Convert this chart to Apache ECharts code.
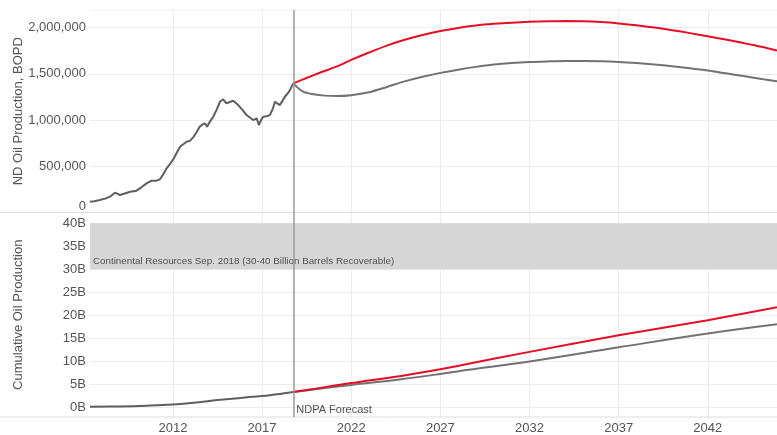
<!DOCTYPE html>
<html><head><meta charset="utf-8">
<script src="https://cdn.jsdelivr.net/npm/echarts@6/dist/echarts.min.js"></script>
<style>html,body{margin:0;padding:0;background:#fff}#c{width:777px;height:435px}</style>
</head><body><div id="c"></div><script>
// ---- data ----
const xTicks = [2012, 2017, 2022, 2027, 2032, 2037, 2042];
const bopdTicks = [0, 500000, 1000000, 1500000, 2000000];
const cumTicks = [0, 5e9, 10e9, 15e9, 20e9, 25e9, 30e9, 35e9, 40e9];
const forecastStart = 2018.75;
const bandRange = [30e9, 40e9];
const bandLabel = 'Continental Resources Sep. 2018 (30-40 Billion Barrels Recoverable)';
const forecastLabel = 'NDPA Forecast';

const histYears = [2007.35, 2007.6, 2007.9, 2008.2, 2008.47, 2008.75, 2009.03, 2009.3, 2009.6, 2009.96, 2010.25, 2010.52, 2010.8, 2011.08, 2011.27, 2011.45, 2011.65, 2011.85, 2012.0, 2012.2, 2012.4, 2012.6, 2012.77, 2012.95, 2013.14, 2013.3, 2013.5, 2013.65, 2013.8, 2013.92, 2014.05, 2014.26, 2014.45, 2014.64, 2014.82, 2014.92, 2015.0, 2015.2, 2015.38, 2015.5, 2015.66, 2015.9, 2016.13, 2016.3, 2016.5, 2016.7, 2016.82, 2016.95, 2017.06, 2017.25, 2017.44, 2017.6, 2017.72, 2017.85, 2018.0, 2018.15, 2018.28, 2018.45, 2018.56, 2018.75];
const histBopd = [117000, 122000, 135000, 150000, 171000, 214000, 189000, 205000, 225000, 236000, 275000, 315000, 344000, 344000, 359000, 410000, 478000, 530000, 568000, 640000, 711000, 740000, 765000, 775000, 813000, 860000, 928000, 950000, 964000, 928000, 975000, 1036000, 1110000, 1198000, 1224000, 1205000, 1181000, 1195000, 1209000, 1190000, 1162000, 1110000, 1054000, 1030000, 1000000, 1018000, 946000, 1000000, 1036000, 1040000, 1054000, 1120000, 1198000, 1180000, 1162000, 1210000, 1252000, 1290000, 1324000, 1397000];

const fcYears = [2018.75, 2019.3, 2019.9, 2020.5, 2021.2, 2022, 2023, 2024, 2025, 2026, 2027, 2028, 2029, 2030, 2031, 2032, 2033, 2034, 2035, 2036, 2037, 2038, 2039, 2040, 2041, 2042, 2043, 2044, 2045, 2045.88];
const baseBopd = [1397000, 1306000, 1278000, 1264000, 1259000, 1268000, 1300000, 1358000, 1418000, 1468000, 1510000, 1545000, 1575000, 1600000, 1617000, 1628000, 1634000, 1638000, 1638000, 1635000, 1628000, 1616000, 1600000, 1582000, 1560000, 1535000, 1505000, 1475000, 1445000, 1418000];
const highBopd = [1397000, 1440000, 1486000, 1530000, 1580000, 1650000, 1730000, 1805000, 1868000, 1920000, 1962000, 1996000, 2022000, 2040000, 2053000, 2062000, 2068000, 2070000, 2067000, 2059000, 2045000, 2024000, 2000000, 1972000, 1940000, 1906000, 1870000, 1832000, 1792000, 1752000];

const cumHistYears = [2007.35, 2009.0, 2010.5, 2012.0, 2013.3, 2014.5, 2015.8, 2017.0, 2018.0, 2018.75];
const cumHist = [0.05e9, 0.12e9, 0.28e9, 0.55e9, 1.0e9, 1.5e9, 1.98e9, 2.4e9, 2.85e9, 3.25e9];
const cumFcYears = [2018.75, 2020.0, 2022.0, 2024.7, 2027.0, 2028.1, 2032.0, 2037.0, 2042.0, 2045.88];
const cumBase = [3.25e9, 3.85e9, 4.8e9, 6.0e9, 7.2e9, 7.85e9, 9.9e9, 13.0e9, 16.0e9, 18.0e9];
const cumHigh = [3.25e9, 4.0e9, 5.2e9, 6.7e9, 8.2e9, 9.05e9, 12.0e9, 15.6e9, 18.9e9, 21.7e9];

// ---- chart ----
const pairs = (xs, ys) => xs.map((x, i) => [x, ys[i]]);
const FONT = 'Liberation Sans';
const LABEL = '#555';
const GRIDC = '#ececec';
const HIST = '#5e5e5e', BASE = '#727272', HIGH = '#e60e24';

const xAxisBase = (gi, showLabel) => ({
  type: 'value', gridIndex: gi, min: 2007.35, max: 2045.88,
  axisLine: { show: false },
  axisTick: { show: false, customValues: xTicks },
  axisLabel: { show: showLabel, customValues: xTicks, formatter: v => String(v), color: LABEL, fontFamily: FONT, fontSize: 13, margin: 5 },
  splitLine: { show: true, lineStyle: { color: GRIDC, width: 1 } }
});

const chart = echarts.init(document.getElementById('c'), null, { renderer: 'canvas' });
const vline = () => ({
  silent: true, symbol: 'none', animation: false,
  lineStyle: { color: '#9a9a9a', width: 1.5, type: 'solid' },
  label: { show: false },
  data: [{ xAxis: forecastStart }]
});

chart.setOption({
  animation: false,
  backgroundColor: '#fff',
  grid: [
    { left: 90, right: 0, top: 10, height: 202.5, containLabel: false, outerBoundsMode: 'none' },
    { left: 90, right: 0, top: 212.5, height: 204.5, containLabel: false, outerBoundsMode: 'none' }
  ],
  xAxis: [xAxisBase(0, false), xAxisBase(1, true)],
  yAxis: [
    {
      type: 'value', gridIndex: 0, min: 0, max: 2190000,
      name: 'ND Oil Production, BOPD', nameLocation: 'middle', nameGap: 65, nameMoveOverlap: false,
      nameTextStyle: { color: LABEL, fontFamily: FONT, fontSize: 13 },
      axisLine: { show: false },
      axisTick: { show: false, customValues: bopdTicks },
      axisLabel: { customValues: bopdTicks, color: LABEL, fontFamily: FONT, fontSize: 13, margin: 4,
        verticalAlignMinLabel: 'bottom',
        formatter: v => Number(v).toLocaleString('en-US') },
      splitLine: { show: true, lineStyle: { color: GRIDC } }
    },
    {
      type: 'value', gridIndex: 1, min: -2.18e9, max: 42.35e9,
      name: 'Cumulative Oil Production', nameLocation: 'middle', nameGap: 65, nameMoveOverlap: false,
      nameTextStyle: { color: LABEL, fontFamily: FONT, fontSize: 13 },
      axisLine: { show: false },
      axisTick: { show: false, customValues: cumTicks },
      axisLabel: { customValues: cumTicks, color: LABEL, fontFamily: FONT, fontSize: 13, margin: 4,
        formatter: v => (v / 1e9) + 'B' },
      splitLine: { show: true, lineStyle: { color: GRIDC } }
    }
  ],
  series: [
    { type: 'line', xAxisIndex: 0, yAxisIndex: 0, data: pairs(histYears, histBopd), showSymbol: false, symbol: 'none',
      lineStyle: { color: HIST, width: 2 }, markLine: vline() },
    { type: 'line', xAxisIndex: 0, yAxisIndex: 0, data: pairs(fcYears, baseBopd), smooth: 0.3, symbol: 'none',
      lineStyle: { color: BASE, width: 2 } },
    { type: 'line', xAxisIndex: 0, yAxisIndex: 0, data: pairs(fcYears, highBopd), smooth: 0.3, symbol: 'none',
      lineStyle: { color: HIGH, width: 2 } },
    { type: 'line', xAxisIndex: 1, yAxisIndex: 1, data: pairs(cumHistYears, cumHist), smooth: 0.4, symbol: 'none',
      lineStyle: { color: HIST, width: 2 }, markLine: vline(),
      markArea: {
        silent: true,
        itemStyle: { color: '#d6d6d6' },
        label: { show: true, position: 'insideBottomLeft', formatter: bandLabel, distance: 3,
          color: '#505050', fontFamily: FONT, fontSize: 9.8 },
        data: [[{ yAxis: bandRange[0], x: 90 }, { yAxis: bandRange[1], x: 777 }]]
      } },
    { type: 'line', xAxisIndex: 1, yAxisIndex: 1, data: pairs(cumFcYears, cumBase), smooth: 0.4, symbol: 'none',
      lineStyle: { color: BASE, width: 2 } },
    { type: 'line', xAxisIndex: 1, yAxisIndex: 1, data: pairs(cumFcYears, cumHigh), smooth: 0.4, symbol: 'none',
      lineStyle: { color: HIGH, width: 2 } }
  ]
});

// panel borders and forecast label positioned from the axes
const pTop = chart.convertToPixel({ gridIndex: 0 }, [forecastStart, 0]);
const pBot = chart.convertToPixel({ gridIndex: 1 }, [forecastStart, -2.18e9]);
const pTopEdge = chart.convertToPixel({ gridIndex: 0 }, [forecastStart, 2190000]);
chart.setOption({
  graphic: [
    { type: 'line', silent: true, shape: { x1: 0, y1: pTop[1], x2: 777, y2: pTop[1] }, style: { stroke: '#dcdcdc', lineWidth: 1 } },
    { type: 'line', silent: true, shape: { x1: 0, y1: pBot[1], x2: 777, y2: pBot[1] }, style: { stroke: '#dcdcdc', lineWidth: 1 } },
    { type: 'line', silent: true, shape: { x1: 90, y1: pTopEdge[1], x2: 777, y2: pTopEdge[1] }, style: { stroke: '#f0f0f0', lineWidth: 1 } },
    { type: 'text', silent: true, x: pBot[0] + 3, y: pBot[1] - 2,
      style: { text: forecastLabel, fill: '#505050', font: '11px "Liberation Sans"', textVerticalAlign: 'bottom' } }
  ]
});
</script></body></html>
